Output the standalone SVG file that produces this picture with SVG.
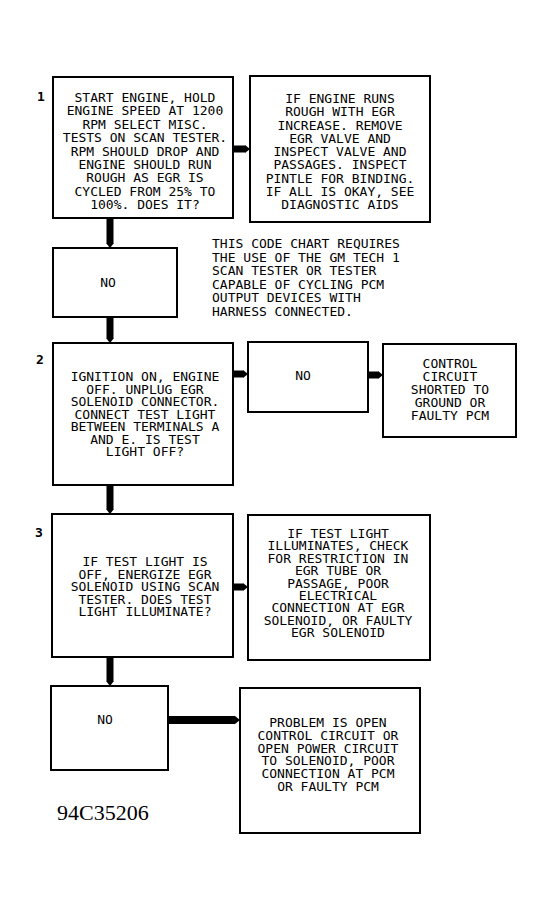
<svg xmlns="http://www.w3.org/2000/svg" width="555" height="909" viewBox="0 0 555 909">
<style>
.box{fill:#fff;stroke:#000;stroke-width:2}
.t{font-family:"DejaVu Sans Mono","Liberation Mono",monospace;font-size:13px;fill:#000;text-anchor:middle}
.n{font-family:"DejaVu Sans Mono","Liberation Mono",monospace;font-size:13px;fill:#000;text-anchor:start}
.num{font-family:"DejaVu Sans Mono","Liberation Mono",monospace;font-size:13px;font-weight:bold;fill:#000}
.c{stroke:#000;stroke-width:7;fill:none}
.cw{stroke:#000;stroke-width:8;fill:none}
.lbl{font-family:"Liberation Serif","Times New Roman",serif;font-size:22px;fill:#000}
</style>
<defs>
<marker id="ah" markerUnits="userSpaceOnUse" markerWidth="8" markerHeight="8" refX="0" refY="4" orient="auto" viewBox="0 0 8 8">
<path d="M0,0 L5,4 L0,8 Z" fill="#000"/>
</marker>
</defs>
<rect width="555" height="909" fill="#fff"/>
<g id="connectors">
<line class="c" x1="110" y1="218" x2="110" y2="243" marker-end="url(#ah)"/>
<line class="c" x1="233" y1="149" x2="245" y2="149" marker-end="url(#ah)"/>
<line class="c" x1="110" y1="317" x2="110" y2="338" marker-end="url(#ah)"/>
<line class="c" x1="233" y1="374" x2="243" y2="374" marker-end="url(#ah)"/>
<line class="c" x1="368" y1="375" x2="378" y2="375" marker-end="url(#ah)"/>
<line class="c" x1="110" y1="485" x2="110" y2="509" marker-end="url(#ah)"/>
<line class="c" x1="233" y1="587" x2="243" y2="587" marker-end="url(#ah)"/>
<line class="c" x1="110" y1="657" x2="110" y2="681" marker-end="url(#ah)"/>
<line class="cw" x1="168" y1="720" x2="235" y2="720" marker-end="url(#ah)"/>
</g>
<g id="step1">
<text class="num" x="37" y="101">1</text>
<rect class="box" x="53" y="77" width="180" height="141"/>
<text class="t" x="145" y="102">START ENGINE, HOLD</text>
<text class="t" x="145" y="115.4">ENGINE SPEED AT 1200</text>
<text class="t" x="145" y="128.8">RPM SELECT MISC.</text>
<text class="t" x="145" y="142.2">TESTS ON SCAN TESTER.</text>
<text class="t" x="145" y="155.6">RPM SHOULD DROP AND</text>
<text class="t" x="145" y="169">ENGINE SHOULD RUN</text>
<text class="t" x="145" y="182.4">ROUGH AS EGR IS</text>
<text class="t" x="145" y="195.8">CYCLED FROM 25% TO</text>
<text class="t" x="145" y="209.2">100%. DOES IT?</text>
</g>
<g id="result1">
<rect class="box" x="250" y="76" width="180" height="146"/>
<text class="t" x="340" y="103">IF ENGINE RUNS</text>
<text class="t" x="340" y="116.25">ROUGH WITH EGR</text>
<text class="t" x="340" y="129.5">INCREASE. REMOVE</text>
<text class="t" x="340" y="142.75">EGR VALVE AND</text>
<text class="t" x="340" y="156">INSPECT VALVE AND</text>
<text class="t" x="340" y="169.25">PASSAGES. INSPECT</text>
<text class="t" x="340" y="182.5">PINTLE FOR BINDING.</text>
<text class="t" x="340" y="195.75">IF ALL IS OKAY, SEE</text>
<text class="t" x="340" y="209">DIAGNOSTIC AIDS</text>
</g>
<g id="no1">
<rect class="box" x="53" y="248" width="124" height="69"/>
<text class="t" x="108" y="287">NO</text>
</g>
<g id="note">
<text class="n" x="212" y="248">THIS CODE CHART REQUIRES</text>
<text class="n" x="212" y="261.5">THE USE OF THE GM TECH 1</text>
<text class="n" x="212" y="275">SCAN TESTER OR TESTER</text>
<text class="n" x="212" y="288.5">CAPABLE OF CYCLING PCM</text>
<text class="n" x="212" y="302">OUTPUT DEVICES WITH</text>
<text class="n" x="212" y="315.5">HARNESS CONNECTED.</text>
</g>
<g id="step2">
<text class="num" x="36" y="364">2</text>
<rect class="box" x="53" y="343" width="180" height="142"/>
<text class="t" x="145" y="381">IGNITION ON, ENGINE</text>
<text class="t" x="145" y="393.5">OFF. UNPLUG EGR</text>
<text class="t" x="145" y="406">SOLENOID CONNECTOR.</text>
<text class="t" x="145" y="418.5">CONNECT TEST LIGHT</text>
<text class="t" x="145" y="431">BETWEEN TERMINALS A</text>
<text class="t" x="145" y="443.5">AND E. IS TEST</text>
<text class="t" x="145" y="456">LIGHT OFF?</text>
</g>
<g id="no2">
<rect class="box" x="248" y="342" width="120" height="70"/>
<text class="t" x="303" y="380">NO</text>
</g>
<g id="result2">
<rect class="box" x="383" y="344" width="133" height="93"/>
<text class="t" x="450" y="368">CONTROL</text>
<text class="t" x="450" y="381">CIRCUIT</text>
<text class="t" x="450" y="394">SHORTED TO</text>
<text class="t" x="450" y="407">GROUND OR</text>
<text class="t" x="450" y="420">FAULTY PCM</text>
</g>
<g id="step3">
<text class="num" x="35" y="537">3</text>
<rect class="box" x="52" y="514" width="181" height="143"/>
<text class="t" x="145" y="566">IF TEST LIGHT IS</text>
<text class="t" x="145" y="578.5">OFF, ENERGIZE EGR</text>
<text class="t" x="145" y="591">SOLENOID USING SCAN</text>
<text class="t" x="145" y="603.5">TESTER. DOES TEST</text>
<text class="t" x="145" y="616">LIGHT ILLUMINATE?</text>
</g>
<g id="result3">
<rect class="box" x="248" y="515" width="182" height="145"/>
<text class="t" x="338" y="538">IF TEST LIGHT</text>
<text class="t" x="338" y="550.4">ILLUMINATES, CHECK</text>
<text class="t" x="338" y="562.8">FOR RESTRICTION IN</text>
<text class="t" x="338" y="575.2">EGR TUBE OR</text>
<text class="t" x="338" y="587.6">PASSAGE, POOR</text>
<text class="t" x="338" y="600">ELECTRICAL</text>
<text class="t" x="338" y="612.4">CONNECTION AT EGR</text>
<text class="t" x="338" y="624.8">SOLENOID, OR FAULTY</text>
<text class="t" x="338" y="637.2">EGR SOLENOID</text>
</g>
<g id="no3">
<rect class="box" x="51" y="686" width="117" height="84"/>
<text class="t" x="105" y="724">NO</text>
</g>
<g id="result4">
<rect class="box" x="240" y="688" width="180" height="145"/>
<text class="t" x="328" y="727">PROBLEM IS OPEN</text>
<text class="t" x="328" y="739.8">CONTROL CIRCUIT OR</text>
<text class="t" x="328" y="752.6">OPEN POWER CIRCUIT</text>
<text class="t" x="328" y="765.4">TO SOLENOID, POOR</text>
<text class="t" x="328" y="778.2">CONNECTION AT PCM</text>
<text class="t" x="328" y="791">OR FAULTY PCM</text>
</g>
<text class="lbl" x="57" y="820">94C35206</text>
</svg>
